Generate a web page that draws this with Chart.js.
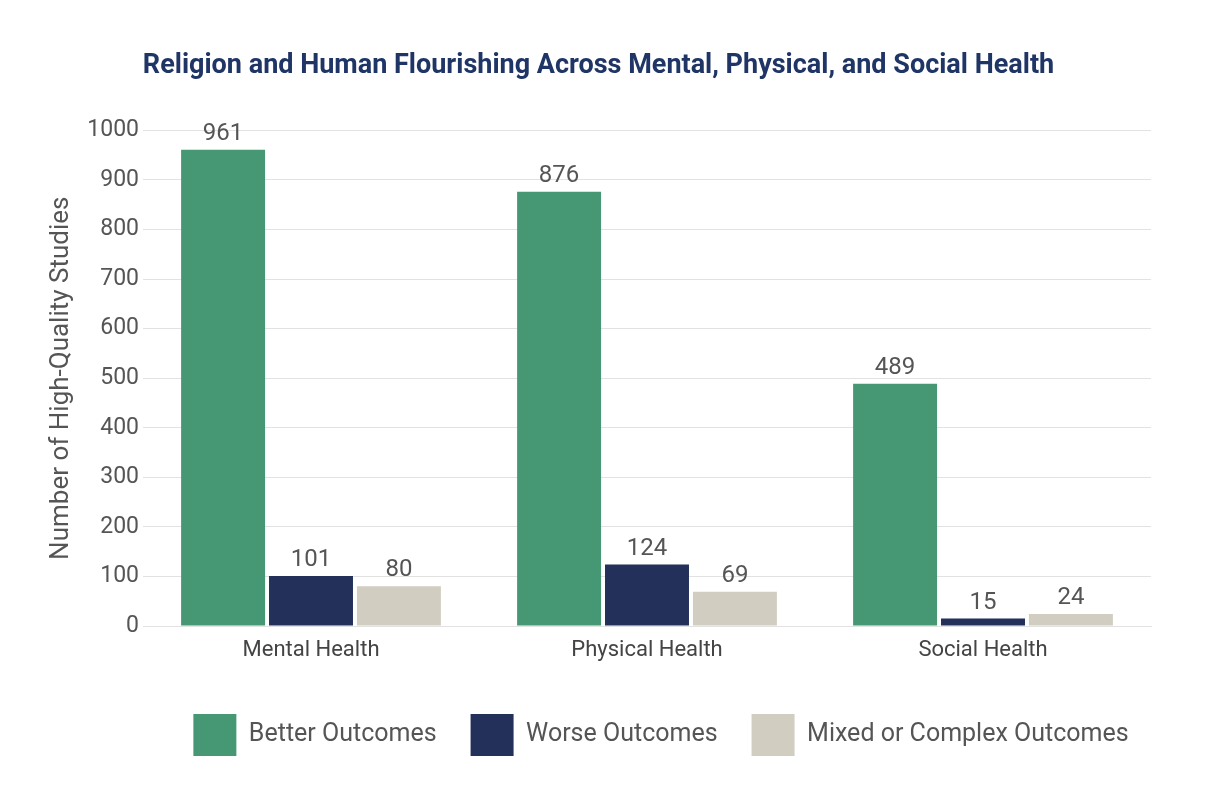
<!DOCTYPE html>
<html>
<head>
<meta charset="utf-8">
<script src="https://cdn.jsdelivr.net/npm/chart.js@4"></script>
<style>
  html, body { margin: 0; padding: 0; background: #fff; }
  #wrap { width: 1226px; height: 794px; }
</style>
</head>
<body>
<div id="wrap"><canvas id="chart"></canvas></div>
<script>
const categories = ['Mental Health', 'Physical Health', 'Social Health'];
const better = [961, 876, 489];
const worse = [101, 124, 15];
const mixed = [80, 69, 24];
const yTicks = [0, 100, 200, 300, 400, 500, 600, 700, 800, 900, 1000];

const FONT = 'Roboto, "Liberation Sans", sans-serif';
const GREY = '#555';

// numbers above each bar
const valueLabels = {
    id: 'valueLabels',
    afterDatasetsDraw(chart) {
        const { ctx } = chart;
        ctx.save();
        ctx.font = '24px ' + FONT;
        ctx.fillStyle = GREY;
        ctx.textAlign = 'center';
        ctx.textBaseline = 'alphabetic';
        chart.data.datasets.forEach((ds, i) => {
            chart.getDatasetMeta(i).data.forEach((bar, j) => {
                ctx.fillText(ds.data[j], bar.x, bar.y - 10);
            });
        });
        ctx.restore();
    }
};

// nudge the legend a little to the right, like the original
const legendShift = {
    id: 'legendShift',
    afterLayout(chart) {
        if (chart.legend) {
            chart.legend.left += 14;
            chart.legend.right += 14;
        }
    }
};

new Chart(document.getElementById('chart'), {
    type: 'bar',
    data: {
        labels: categories,
        datasets: [
            { label: 'Better Outcomes', data: better, backgroundColor: '#459873' },
            { label: 'Worse Outcomes', data: worse, backgroundColor: '#22305a' },
            { label: 'Mixed or Complex Outcomes', data: mixed, backgroundColor: '#d1cdc0' }
        ]
    },
    options: {
        responsive: true,
        maintainAspectRatio: false,
        animation: false,
        categoryPercentage: 0.785,
        barPercentage: 0.955,
        layout: { padding: { left: 46, right: 75, top: 0, bottom: 28 } },
        scales: {
            y: {
                min: 0,
                max: 1000,
                afterBuildTicks: axis => { axis.ticks = yTicks.map(v => ({ value: v })); },
                afterFit: axis => { axis.width = 97; },
                ticks: {
                    color: GREY,
                    font: { size: 23, family: FONT },
                    padding: 4,
                    callback: v => String(v)
                },
                grid: { color: '#e2e2e2', drawTicks: false },
                border: { display: false },
                title: {
                    display: true,
                    text: 'Number of High-Quality Studies',
                    color: GREY,
                    font: { size: 26, family: FONT },
                    padding: { top: 0, bottom: 0 }
                }
            },
            x: {
                afterFit: axis => { axis.height = 54; },
                ticks: { color: '#444', font: { size: 22, family: FONT }, padding: 3 },
                grid: { display: false },
                border: { color: '#e2e2e2' }
            }
        },
        plugins: {
            title: {
                display: true,
                text: 'Religion and Human Flourishing Across Mental, Physical, and Social Health',
                color: '#1f3566',
                font: { size: 27, weight: 'bold', family: FONT },
                padding: { top: 50, bottom: 48 }
            },
            legend: {
                position: 'bottom',
                fullSize: false,
                labels: {
                    color: GREY,
                    font: { size: 25, family: FONT },
                    boxWidth: 43,
                    boxHeight: 42,
                    padding: 34
                }
            },
            tooltip: { enabled: false }
        }
    },
    plugins: [valueLabels, legendShift]
});
</script>
</body>
</html>
